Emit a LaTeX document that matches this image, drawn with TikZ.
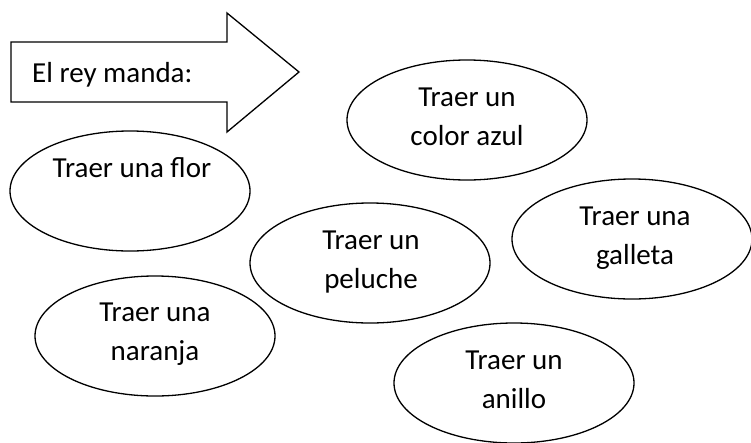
\documentclass[tikz,border=0pt]{standalone}
\usepackage{fontspec}
\setmainfont{Carlito}
\usetikzlibrary{shapes.geometric}
\tikzset{
  oval/.style={draw, ellipse, line width=1.3pt, minimum width=240pt, minimum height=120pt, inner sep=0pt},
  txt/.style={font=\fontsize{29}{38.5}\selectfont, align=center, inner sep=0pt, anchor=base}
}
\begin{document}
\begin{tikzpicture}[x=1pt,y=-1pt]
\useasboundingbox (0,0) rectangle (751,442);
% arrow
\draw[line width=1.3pt, line join=miter] (11,42) -- (227,42) -- (227,13) -- (299,72) -- (227,132) -- (227,102) -- (11,102) -- cycle;
\node[txt, anchor=base west] (manda) at (32,82) {El rey manda:};

% ellipses (text base = last line)
\node[oval] (flor) at (130,191) {};
\node[txt] (florT) at (132,177) {Traer una flor};

\node[oval] (naranja) at (155,336) {};
\node[txt] (naranjaT) at (155,360) {Traer una\\naranja};

\node[oval] (azul) at (467,120) {};
\node[txt] (azulT) at (467,145) {Traer un\\color azul};

\node[oval] (peluche) at (370,263) {};
\node[txt] (pelucheT) at (371,288) {Traer un\\peluche};

\node[oval] (galleta) at (632,239) {};
\node[txt] (galletaT) at (635,264) {Traer una\\galleta};

\node[oval] (anillo) at (514,383) {};
\node[txt] (anilloT) at (514,408) {Traer un\\anillo};
\end{tikzpicture}
\end{document}
